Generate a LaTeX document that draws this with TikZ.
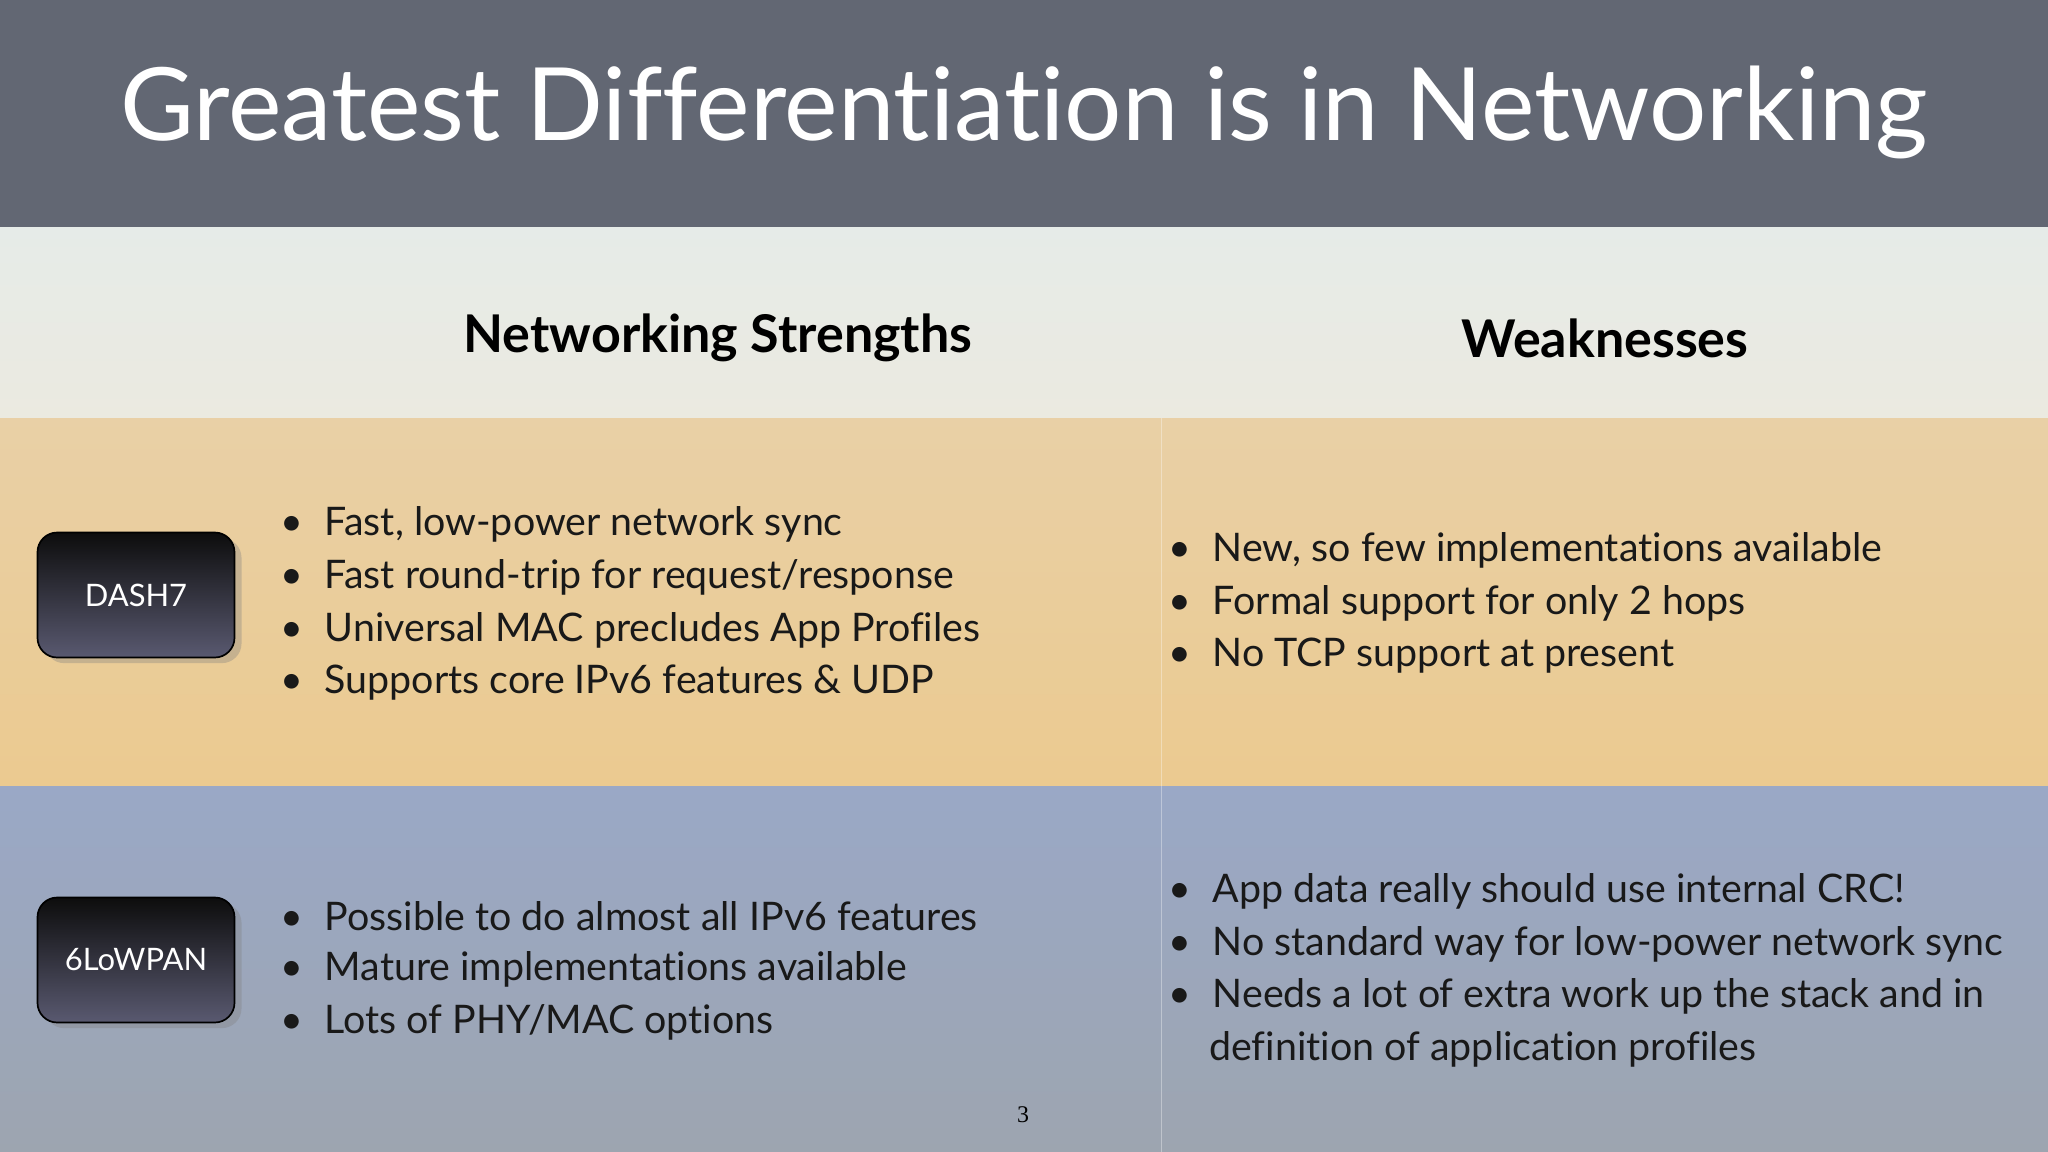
\documentclass[tikz,border=0pt]{standalone}
\usepackage{fontspec}
\setmainfont{Lato}[RawFeature={-liga,-dlig}]
\newfontfamily\pagefont{Liberation Serif}
\usetikzlibrary{shadows}
\definecolor{titlebg}{HTML}{626773}
\tikzset{
  lbl/.style={anchor=west,inner sep=0pt,font=\fontsize{28}{32}\selectfont,text=black!90},
  tagbox/.style={draw=black,line width=1.2pt,rounded corners=14pt,minimum width=197*0.25mm,minimum height=125*0.25mm,
    top color=black!95,bottom color=black!70!blue!30!gray,text=white,font=\fontsize{22}{26}\selectfont,
    drop shadow={shadow xshift=5pt,shadow yshift=-4pt,opacity=0.35}},
  hdr/.style={font=\fontsize{37}{42}\selectfont\bfseries,text=black}
}
\newcommand{\bul}{\textbullet\hspace{0.55em}}
\begin{document}
\begin{tikzpicture}[x=0.25mm,y=-0.25mm]
\useasboundingbox (0,0) rectangle (2048,1152);
\fill[titlebg] (0,0) rectangle (2048,227);
\shade[top color={rgb,255:red,230;green,235;blue,232},bottom color={rgb,255:red,235;green,234;blue,224}] (0,227) rectangle (2048,418);
\shade[top color={rgb,255:red,233;green,208;blue,166},bottom color={rgb,255:red,235;green,202;blue,144}] (0,418) rectangle (2048,786);
\shade[top color={rgb,255:red,154;green,168;blue,198},bottom color={rgb,255:red,157;green,165;blue,176}] (0,786) rectangle (2048,1152);
\draw[white,opacity=0.35,line width=0.6pt] (1161,418) -- (1161,1152);
\node[text=white,font=\fontsize{72}{80}\selectfont] (title) at (1024,112) {Greatest Differentiation is in Networking};
\node[hdr] (h1) at (718,338) {Networking Strengths};
\node[hdr] (h2) at (1605,338) {Weaknesses};
\node[tagbox] (d7) at (136,595) {DASH7};
\node[tagbox] (lw) at (136,960) {6LoWPAN};
\node[lbl] (a1) at (280,524) {\bul Fast, low-power network sync};
\node[lbl] (a2) at (280,577) {\bul Fast round-trip for request/response};
\node[lbl] (a3) at (280,630) {\bul Universal MAC precludes App Profiles};
\node[lbl] (a4) at (280,683) {\bul Supports core IPv6 features \& UDP};
\node[lbl] (b1) at (1168,550) {\bul New, so few implementations available};
\node[lbl] (b2) at (1168,603) {\bul Formal support for only 2 hops};
\node[lbl] (b3) at (1168,656) {\bul No TCP support at present};
\node[lbl] (c1) at (280,916) {\bul Possible to do almost all IPv6 features};
\node[lbl] (c2) at (280,969) {\bul Mature implementations available};
\node[lbl] (c3) at (280,1022) {\bul Lots of PHY/MAC options};
\node[lbl] (e1) at (1168,891) {\bul App data really should use internal CRC!};
\node[lbl] (e2) at (1168,944) {\bul No standard way for low-power network sync};
\node[lbl] (e3) at (1168,996) {\bul Needs a lot of extra work up the stack and in};
\node[lbl] (e4) at (1209,1049) {definition of application profiles};
\node[font=\pagefont\fontsize{17}{20}\selectfont] (pg) at (1023,1115) {3};
\end{tikzpicture}
\end{document}
